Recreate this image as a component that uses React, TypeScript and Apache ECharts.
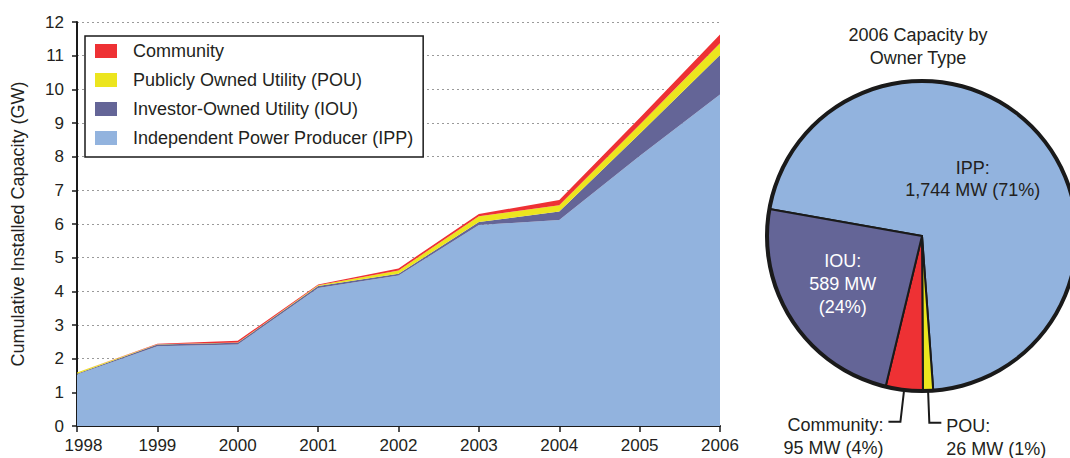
import React, { useEffect, useRef } from "react";
import * as echarts from "echarts";

const years = ["1998", "1999", "2000", "2001", "2002", "2003", "2004", "2005", "2006"];
const ippGW = [1.53, 2.37, 2.42, 4.10, 4.47, 5.97, 6.12, 8.02, 9.85];
const iouGW = [0.02, 0.05, 0.05, 0.06, 0.05, 0.09, 0.25, 0.66, 1.17];
const pouGW = [0.04, 0.01, 0.01, 0.02, 0.10, 0.17, 0.19, 0.27, 0.35];
const communityGW = [0.0, 0.01, 0.05, 0.02, 0.06, 0.07, 0.15, 0.20, 0.26];

const pieNames = ["IPP", "POU", "Community", "IOU"];
const pieMW = [1744, 26, 95, 589];
const piePct = [71, 1, 4, 24];

const COLORS = {
  ipp: "#92B3DE",
  iou: "#646597",
  pou: "#ECE51E",
  community: "#EE3134",
};
const PIE_COLORS = [COLORS.ipp, COLORS.pou, COLORS.community, COLORS.iou];

const FONT = "'Liberation Sans', Arial, sans-serif";
const INK = "#231f20";

export default function App() {
  const ref = useRef<HTMLDivElement>(null);

  useEffect(() => {
    document.body.style.margin = "0";
    if (!ref.current) return;
    const chart = echarts.init(ref.current, undefined, { renderer: "svg" });

    const area = (name: string, data: number[], color: string) => ({
      name,
      type: "line",
      stack: "total",
      data,
      symbol: "none",
      showSymbol: false,
      lineStyle: { width: 0, color },
      itemStyle: { color },
      areaStyle: { color, opacity: 1 },
      emphasis: { disabled: true },
    });

    const pieText = (i: number) =>
      `${pieNames[i]}:\n${pieMW[i].toLocaleString("en-US")} MW (${piePct[i]}%)`;

    const option: any = {
      animation: false,
      textStyle: { fontFamily: FONT, color: INK },
      title: {
        text: "2006 Capacity by\nOwner Type",
        left: 918,
        top: 23,
        textAlign: "center",
        padding: 0,
        textStyle: {
          fontFamily: FONT,
          fontSize: 18,
          fontWeight: "normal",
          color: INK,
          lineHeight: 23,
        },
      },
      legend: {
        orient: "vertical",
        left: 85,
        top: 36,
        data: ["Community", "Publicly Owned Utility (POU)", "Investor-Owned Utility (IOU)", "Independent Power Producer (IPP)"],
        itemWidth: 22,
        itemHeight: 14,
        itemGap: 11,
        padding: [6, 10, 10, 10],
        borderColor: "#1a1a1a",
        borderWidth: 1.5,
        borderRadius: 0,
        backgroundColor: "#ffffff",
        icon: "rect",
        selectedMode: false,
        textStyle: {
          fontFamily: FONT,
          fontSize: 18,
          color: INK,
          lineHeight: 18,
          padding: [0, 0, 0, 11],
        },
      },
      grid: { left: 77, right: 350, top: 22, bottom: 32, containLabel: false },
      xAxis: {
        type: "category",
        boundaryGap: false,
        data: years,
        axisLine: { lineStyle: { color: "#1a1a1a", width: 2 } },
        axisTick: { show: true, interval: 0, length: 6, lineStyle: { color: "#1a1a1a", width: 1.5 } },
        axisLabel: {
          interval: 0,
          hideOverlap: false,
          fontFamily: FONT,
          fontSize: 17,
          color: INK,
          margin: 11,
          formatter: (v: string, i: number) => (i === 0 ? `{first|${v}}` : v),
          rich: { first: { fontFamily: FONT, fontSize: 17, color: INK, padding: [0, 0, 0, 13] } },
        },
        splitLine: { show: false },
      },
      yAxis: {
        type: "value",
        min: 0,
        max: 12,
        interval: 1,
        name: "Cumulative Installed Capacity (GW)",
        nameLocation: "middle",
        nameGap: 50,
        nameTextStyle: { fontFamily: FONT, fontSize: 18, color: INK },
        axisLine: { show: true, lineStyle: { color: "#1a1a1a", width: 2 } },
        axisTick: { show: true, length: 5, lineStyle: { color: "#1a1a1a", width: 1.5 } },
        axisLabel: { fontFamily: FONT, fontSize: 17, color: INK, margin: 13 },
        splitLine: { show: true, lineStyle: { color: "#9a9a9a", width: 1, type: [2, 3] } },
      },
      series: [
        area("Independent Power Producer (IPP)", ippGW, COLORS.ipp),
        area("Investor-Owned Utility (IOU)", iouGW, COLORS.iou),
        area("Publicly Owned Utility (POU)", pouGW, COLORS.pou),
        area("Community", communityGW, COLORS.community),
        {
          type: "pie",
          name: "2006 Capacity",
          center: [922, 236],
          radius: [0, 155],
          startAngle: 170,
          clockwise: true,
          silent: true,
          z: 3,
          itemStyle: { borderColor: "#1a1a1a", borderWidth: 2 },
          label: { fontFamily: FONT, fontSize: 18, color: INK },
          labelLine: { lineStyle: { color: "#1a1a1a", width: 2 } },
          data: pieNames.map((n, i) => {
            const item: any = {
              name: "pie-" + n,
              value: pieMW[i],
              itemStyle: { color: PIE_COLORS[i] },
            };
            if (n === "IPP") {
              item.label = { show: true, position: "inside", formatter: pieText(i), color: INK, fontSize: 18, lineHeight: 22, align: "center" };
              item.labelLine = { show: false };
            } else if (n === "IOU") {
              item.label = {
                show: true,
                position: "inside",
                formatter: `${n}:\n${pieMW[i]} MW\n(${piePct[i]}%)`,
                color: "#ffffff",
                fontSize: 18,
                lineHeight: 23,
                align: "center",
              };
              item.labelLine = { show: false };
            } else {
              item.label = {
                show: true,
                position: "outside",
                formatter: pieText(i),
                color: INK,
                fontSize: 18,
                lineHeight: 23,
                align: "center",
              };
              item.labelLine = { show: true, length: 32, length2: 12 };
            }
            return item;
          }),
          labelLayout: (p: any) => {
            if (p.dataIndex === 0) return { dx: -9, dy: -3 };
            if (p.dataIndex === 3) return { dx: -12, dy: 4 };
            return { dy: 15 };
          },
        },
        {
          type: "pie",
          name: "ring",
          center: [922, 236],
          radius: [153, 157],
          silent: true,
          z: 4,
          label: { show: false },
          labelLine: { show: false },
          itemStyle: { color: "#1a1a1a", borderWidth: 0 },
          data: [{ name: "ring", value: 1 }],
        },
      ],
    };

    chart.setOption(option);
    return () => chart.dispose();
  }, []);

  return <div ref={ref} style={{ width: 1070, height: 458 }} />;
}
